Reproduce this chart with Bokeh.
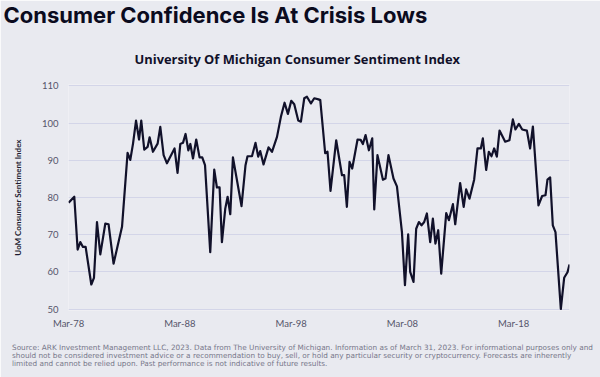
from bokeh.plotting import figure
from bokeh.models import Range1d, Title, FixedTicker
from bokeh.embed import file_html
from bokeh.resources import INLINE

# Decimal years (Mar-78 = 1978.17) and index values
years = [1978.17, 1978.68, 1978.98, 1979.22, 1979.46, 1979.70, 1980.21, 1980.45, 1980.72, 1981.02,
         1981.47, 1981.76, 1982.21, 1982.97, 1983.47, 1983.71, 1983.96, 1984.23, 1984.50, 1984.70,
         1984.97, 1985.27, 1985.45, 1985.75, 1986.17, 1986.41, 1986.71, 1987.01, 1987.69, 1987.96,
         1988.21, 1988.45, 1988.68, 1988.93, 1989.11, 1989.35, 1989.64, 1989.94, 1990.18, 1990.43,
         1990.90, 1991.26, 1991.50, 1991.74, 1991.95, 1992.25, 1992.46, 1992.70, 1992.94, 1993.71,
         1994.07, 1994.25, 1994.65, 1994.97, 1995.21, 1995.39, 1995.69, 1996.14, 1996.45, 1996.90,
         1997.25, 1997.58, 1997.88, 1998.18, 1998.45, 1998.81, 1999.05, 1999.35, 1999.59, 1999.95,
         2000.25, 2000.63, 2000.79, 2001.23, 2001.44, 2001.71, 2002.22, 2002.74, 2002.94, 2003.18,
         2003.42, 2003.66, 2004.14, 2004.42, 2004.62, 2004.86, 2005.16, 2005.46, 2005.64, 2005.93,
         2006.42, 2006.65, 2006.92, 2007.37, 2007.68, 2008.13, 2008.40, 2008.69, 2008.87, 2009.17,
         2009.41, 2009.65, 2009.89, 2010.13, 2010.37, 2010.67, 2010.91, 2011.14, 2011.39, 2011.66,
         2012.11, 2012.35, 2012.71, 2012.92, 2013.36, 2013.68, 2013.90, 2014.20, 2014.62, 2014.92,
         2015.22, 2015.40, 2015.70, 2015.94, 2016.18, 2016.42, 2016.66, 2016.90, 2017.41, 2017.79,
         2018.10, 2018.33, 2018.64, 2018.94, 2019.36, 2019.65, 2019.90, 2020.40, 2020.73, 2021.03,
         2021.21, 2021.45, 2021.69, 2021.93, 2022.41, 2022.71, 2023.01, 2023.19]
sentiment = [78.6, 80.2, 66.0, 68.0, 66.7, 66.7, 56.6, 58.4, 73.4, 64.7,
             73.0, 72.8, 62.2, 72.1, 92.0, 90.1, 94.5, 100.7, 95.6, 100.7,
             92.9, 93.6, 96.2, 92.3, 94.5, 99.0, 91.4, 89.2, 93.2, 86.6,
             94.4, 94.7, 97.1, 92.7, 94.4, 90.5, 95.6, 90.8, 90.8, 88.7,
             65.3, 87.5, 82.7, 82.7, 68.0, 77.0, 80.2, 75.5, 90.8, 77.7,
             88.7, 91.1, 91.1, 94.7, 91.0, 92.5, 88.9, 93.5, 92.3, 96.3,
             101.7, 105.5, 102.5, 106.0, 105.1, 100.7, 100.4, 106.7, 107.1, 105.3,
             106.7, 106.4, 106.2, 91.9, 92.3, 81.8, 95.4, 86.0, 86.0, 77.5,
             89.6, 87.8, 95.6, 95.5, 94.4, 96.8, 92.7, 95.9, 76.8, 91.4,
             84.8, 85.1, 91.4, 85.1, 83.0, 70.7, 56.4, 70.1, 60.0, 57.3,
             71.6, 73.4, 72.5, 73.4, 75.7, 68.0, 74.3, 67.6, 71.2, 59.5,
             75.8, 73.9, 78.2, 72.8, 83.9, 77.5, 82.2, 79.7, 84.8, 93.2,
             93.2, 95.9, 87.4, 92.3, 91.1, 93.2, 91.0, 98.0, 95.0, 95.4,
             101.0, 98.3, 99.8, 98.3, 98.0, 93.2, 99.1, 77.9, 80.4, 80.6,
             84.8, 85.4, 72.5, 70.7, 50.0, 58.4, 59.9, 62.0]

x_tick_years = [1978, 1988, 1998, 2008, 2018]
x_tick_labels = ["Mar-78", "Mar-88", "Mar-98", "Mar-08", "Mar-18"]
y_ticks = [50, 60, 70, 80, 90, 100, 110]

title_text = "Consumer Confidence Is At Crisis Lows"
subtitle_text = "University Of Michigan Consumer Sentiment Index"
y_label = "UoM Consumer Sentiment Index"
footer_text = ("Source: ARK Investment Management LLC, 2023. Data from The University of Michigan. "
               "Information as of March 31, 2023. For informational purposes only and\n"
               "should not be considered investment advice or a recommendation to buy, sell, or hold "
               "any particular security or cryptocurrency. Forecasts are inherently\n"
               "limited and cannot be relied upon. Past performance is not indicative of future results.")

BG = "#e9eaf0"
INK = "#11112a"

W, H = 600, 377
FL, FW, FT, FH = 68, 501, 84, 226
FB = FT + FH

x_tick_pos = [y + 2 / 12 for y in x_tick_years]

p = figure(frame_width=FW, frame_height=FH,
           min_border_left=FL, min_border_right=W - FL - FW,
           min_border_top=FT, min_border_bottom=H - FB,
           x_range=Range1d(1978.16, 2023.19), y_range=Range1d(49.6, 110.4),
           output_backend="svg", toolbar_location=None)
p.background_fill_color = BG
p.border_fill_color = BG
p.outline_line_color = None

p.line(years, sentiment, line_color=INK, line_width=2.2, line_join="round")

p.xgrid.grid_line_color = None
p.ygrid.grid_line_color = "#d3d5e8"
p.ygrid.grid_line_width = 1
p.ygrid.ticker = FixedTicker(ticks=y_ticks)

p.xaxis.ticker = FixedTicker(ticks=x_tick_pos)
p.xaxis.major_label_overrides = {pos: lab for pos, lab in zip(x_tick_pos, x_tick_labels)}
p.yaxis.ticker = FixedTicker(ticks=y_ticks)

for ax in (p.xaxis[0], p.yaxis[0]):
    ax.axis_line_color = None
    ax.major_tick_line_color = None
    ax.minor_tick_line_color = None
    ax.major_tick_in = 0
    ax.major_tick_out = 0
    ax.major_label_text_font = "Lato"
    ax.major_label_text_font_size = "9.5px"
    ax.major_label_text_color = "#55556a"

p.xaxis.major_label_standoff = 7
p.yaxis.major_label_standoff = 10
p.yaxis.axis_label = y_label
p.yaxis.axis_label_text_font = "Lato"
p.yaxis.axis_label_text_font_size = "8px"
p.yaxis.axis_label_text_font_style = "bold"
p.yaxis.axis_label_text_color = "#1c1c30"
p.yaxis.axis_label_standoff = 16

# panels above the frame, nearest first: subtitle, spacer, main title
p.add_layout(Title(text=subtitle_text, align="left", offset=134 - FL, standoff=32.4,
                   vertical_align="bottom",
                   text_font="Open Sans", text_font_size="12.9px", text_font_style="bold",
                   text_color=INK), "above")
p.add_layout(Title(text=" ", align="left", standoff=-5.4,
                   text_font="Open Sans", text_font_size="5px"), "above")
p.add_layout(Title(text=title_text, align="left", offset=3 - FL, standoff=0,
                   vertical_align="top",
                   text_font="Inter", text_font_size="22px", text_font_style="bold",
                   text_color="#0b0b1e"), "above")
p.add_layout(Title(text=footer_text, align="left", offset=11.5 - FL, standoff=20,
                   vertical_align="bottom",
                   text_font="DejaVu Sans", text_font_size="7.3px", text_font_style="normal",
                   text_color="#77778a", text_line_height=0.9), "below")

open("out.html", "w").write(file_html(p, INLINE))
